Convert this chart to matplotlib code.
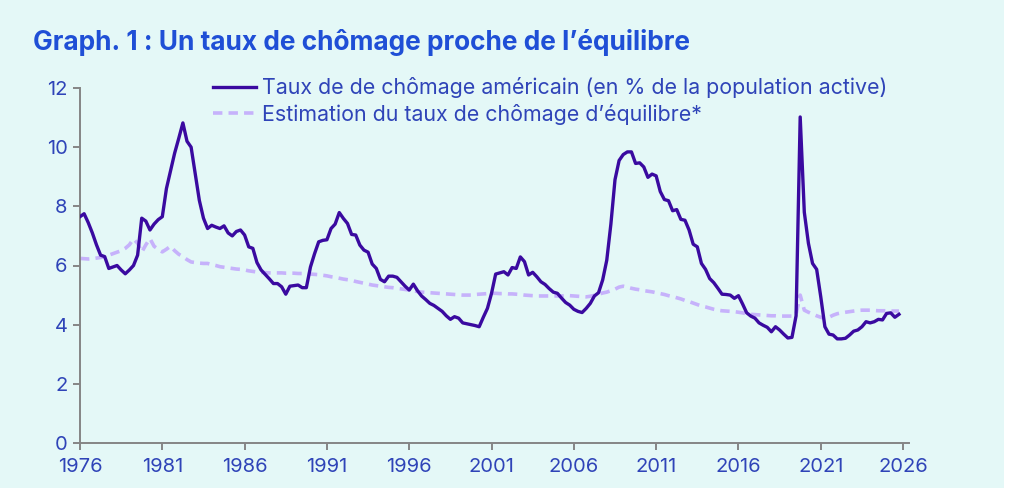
import numpy as np
import matplotlib
matplotlib.use('Agg')
import matplotlib.pyplot as plt
from matplotlib.patches import Rectangle

# quarterly data, 1976Q1 .. 2025Q4 (positions as drawn on the chart)
start_year = 1976
chomage = [
    7.65, 7.75, 7.45, 7.10,   # 1976
    6.70, 6.35, 6.30, 5.90,   # 1977
    5.95, 6.00, 5.85, 5.72,   # 1978
    5.85, 6.00, 6.35, 7.60,   # 1979
    7.50, 7.20, 7.40, 7.55,   # 1980
    7.65, 8.60, 9.20, 9.80,   # 1981
    10.30, 10.82, 10.20, 10.00,  # 1982
    9.10, 8.20, 7.60, 7.25,   # 1983
    7.36, 7.30, 7.25, 7.34,   # 1984
    7.10, 7.00, 7.15, 7.20,   # 1985
    7.03, 6.63, 6.58, 6.10,   # 1986
    5.85, 5.70, 5.55, 5.39,   # 1987
    5.39, 5.28, 5.03, 5.30,   # 1988
    5.32, 5.34, 5.25, 5.25,   # 1989
    5.95, 6.40, 6.80, 6.85,   # 1990
    6.87, 7.25, 7.40, 7.79,   # 1991
    7.59, 7.42, 7.05, 7.03,   # 1992
    6.69, 6.52, 6.45, 6.05,   # 1993
    5.90, 5.53, 5.45, 5.64,   # 1994
    5.64, 5.60, 5.45, 5.30,   # 1995
    5.17, 5.37, 5.15, 4.97,   # 1996
    4.85, 4.72, 4.65, 4.55,   # 1997
    4.45, 4.30, 4.18, 4.27,   # 1998
    4.22, 4.06, 4.03, 4.00,   # 1999
    3.97, 3.93, 4.25, 4.55,   # 2000
    5.06, 5.71, 5.75, 5.79,   # 2001
    5.68, 5.93, 5.90, 6.29,   # 2002
    6.13, 5.68, 5.77, 5.62,   # 2003
    5.45, 5.36, 5.22, 5.10,   # 2004
    5.06, 4.90, 4.75, 4.66,   # 2005
    4.52, 4.45, 4.41, 4.55,   # 2006
    4.72, 4.97, 5.08, 5.51,   # 2007
    6.18, 7.40, 8.90, 9.55,   # 2008
    9.75, 9.84, 9.84, 9.45,   # 2009
    9.47, 9.33, 8.98, 9.09,   # 2010
    9.03, 8.50, 8.23, 8.19,   # 2011
    7.85, 7.89, 7.56, 7.53,   # 2012
    7.20, 6.72, 6.63, 6.07,   # 2013
    5.87, 5.56, 5.42, 5.23,   # 2014
    5.03, 5.02, 5.00, 4.89,   # 2015
    4.98, 4.70, 4.40, 4.29,   # 2016
    4.22, 4.06, 3.98, 3.91,   # 2017
    3.76, 3.93, 3.82, 3.68,   # 2018
    3.55, 3.57, 4.30, 11.02,  # 2019
    7.80, 6.75, 6.07, 5.87,   # 2020
    4.94, 3.93, 3.68, 3.65,   # 2021
    3.52, 3.52, 3.54, 3.65,   # 2022
    3.78, 3.82, 3.93, 4.10,   # 2023
    4.06, 4.10, 4.18, 4.16,   # 2024
    4.38, 4.40, 4.25, 4.35,   # 2025
]
equilibre = [
    6.24, 6.23, 6.22, 6.23,   # 1976
    6.25, 6.27, 6.30, 6.35,   # 1977
    6.40, 6.45, 6.50, 6.58,   # 1978
    6.70, 6.90, 6.75, 6.45,   # 1979
    6.70, 6.91, 6.65, 6.55,   # 1980
    6.46, 6.55, 6.65, 6.50,   # 1981
    6.38, 6.30, 6.20, 6.12,   # 1982
    6.10, 6.08, 6.07, 6.07,   # 1983
    6.03, 6.00, 5.96, 5.94,   # 1984
    5.92, 5.90, 5.88, 5.87,   # 1985
    5.85, 5.82, 5.80, 5.78,   # 1986
    5.77, 5.76, 5.75, 5.75,   # 1987
    5.75, 5.75, 5.74, 5.74,   # 1988
    5.74, 5.73, 5.73, 5.72,   # 1989
    5.71, 5.70, 5.69, 5.67,   # 1990
    5.65, 5.62, 5.60, 5.57,   # 1991
    5.54, 5.52, 5.50, 5.46,   # 1992
    5.43, 5.40, 5.37, 5.34,   # 1993
    5.32, 5.30, 5.28, 5.26,   # 1994
    5.25, 5.23, 5.21, 5.19,   # 1995
    5.17, 5.15, 5.12, 5.10,   # 1996
    5.09, 5.08, 5.07, 5.06,   # 1997
    5.05, 5.04, 5.03, 5.02,   # 1998
    5.01, 5.00, 5.00, 5.00,   # 1999
    5.02, 5.03, 5.04, 5.05,   # 2000
    5.06, 5.06, 5.05, 5.05,   # 2001
    5.04, 5.04, 5.03, 5.02,   # 2002
    5.00, 4.99, 4.98, 4.97,   # 2003
    4.97, 4.97, 4.97, 4.97,   # 2004
    4.97, 4.97, 4.98, 4.98,   # 2005
    4.97, 4.96, 4.95, 4.94,   # 2006
    4.96, 4.99, 5.03, 5.07,   # 2007
    5.10, 5.15, 5.20, 5.27,   # 2008
    5.30, 5.27, 5.23, 5.20,   # 2009
    5.18, 5.15, 5.13, 5.11,   # 2010
    5.08, 5.05, 5.02, 4.98,   # 2011
    4.95, 4.91, 4.87, 4.82,   # 2012
    4.78, 4.73, 4.68, 4.63,   # 2013
    4.60, 4.56, 4.52, 4.49,   # 2014
    4.47, 4.46, 4.45, 4.44,   # 2015
    4.42, 4.40, 4.37, 4.35,   # 2016
    4.34, 4.33, 4.32, 4.31,   # 2017
    4.30, 4.30, 4.29, 4.29,   # 2018
    4.29, 4.29, 4.35, 5.00,   # 2019
    4.49, 4.42, 4.36, 4.30,   # 2020
    4.25, 4.21, 4.25, 4.32,   # 2021
    4.37, 4.40, 4.42, 4.44,   # 2022
    4.46, 4.48, 4.49, 4.49,   # 2023
    4.49, 4.48, 4.47, 4.47,   # 2024
    4.47, 4.46, 4.46, 4.46,   # 2025
]
year_ticks = list(range(1976, 2027, 5))
y_ticks = [0, 2, 4, 6, 8, 10, 12]

titre = "Graph. 1 : Un taux de chômage proche de l\u2019équilibre"
label_1 = "Taux de de chômage américain (en % de la population active)"
label_2 = "Estimation du taux de chômage d\u2019équilibre*"

bg = '#e4f8f7'
txt_blue = '#2f44b8'
title_blue = '#1f4fd6'
axis_grey = '#858585'

plt.rcParams['font.family'] = ['Inter', 'DejaVu Sans']

x = start_year + np.arange(len(chomage)) * 0.25

fig = plt.figure(figsize=(10.24, 4.88), dpi=100, facecolor='white')
fig.patches.append(Rectangle((0, 0), 1004 / 1024, 1, transform=fig.transFigure,
                             facecolor=bg, edgecolor='none', zorder=-10))

ax = fig.add_axes([80 / 1024, 45 / 488, 829 / 1024, 355 / 488])
ax.set_facecolor('none')

ax.plot(x, chomage, color='#3a0aa0', linewidth=2.4, label=label_1, zorder=3,
        solid_joinstyle='round')
ax.plot(x, equilibre, color='#c6b2fb', linewidth=2.6, label=label_2, zorder=2,
        linestyle=(0, (2.6, 1.7)))

ax.set_xlim(1976, 2026.36)
ax.set_ylim(0, 12)
ax.set_xticks(year_ticks)
ax.set_yticks(y_ticks)

for s in ['top', 'right']:
    ax.spines[s].set_visible(False)
for s in ['left', 'bottom']:
    ax.spines[s].set_color(axis_grey)
    ax.spines[s].set_linewidth(1.4)

ax.tick_params(axis='both', colors=axis_grey, labelcolor=txt_blue, labelsize=14.5,
               length=5, width=1.4)
ax.tick_params(axis='y', pad=4)
ax.tick_params(axis='x', pad=6)

fig.text(33 / 1024, 1 - 42 / 488, titre, color=title_blue, fontsize=18.9,
         fontweight='bold', va='center', ha='left')

leg = ax.legend(loc='upper left', bbox_to_anchor=(213 / 1024, 1 - 77 / 488),
                bbox_transform=fig.transFigure, frameon=False, fontsize=15.4,
                handlelength=2.0, handletextpad=0.3, labelspacing=0.26,
                borderpad=0, borderaxespad=0)
for t in leg.get_texts():
    t.set_color(txt_blue)

fig.savefig('out.png', dpi=100, facecolor=fig.get_facecolor())
